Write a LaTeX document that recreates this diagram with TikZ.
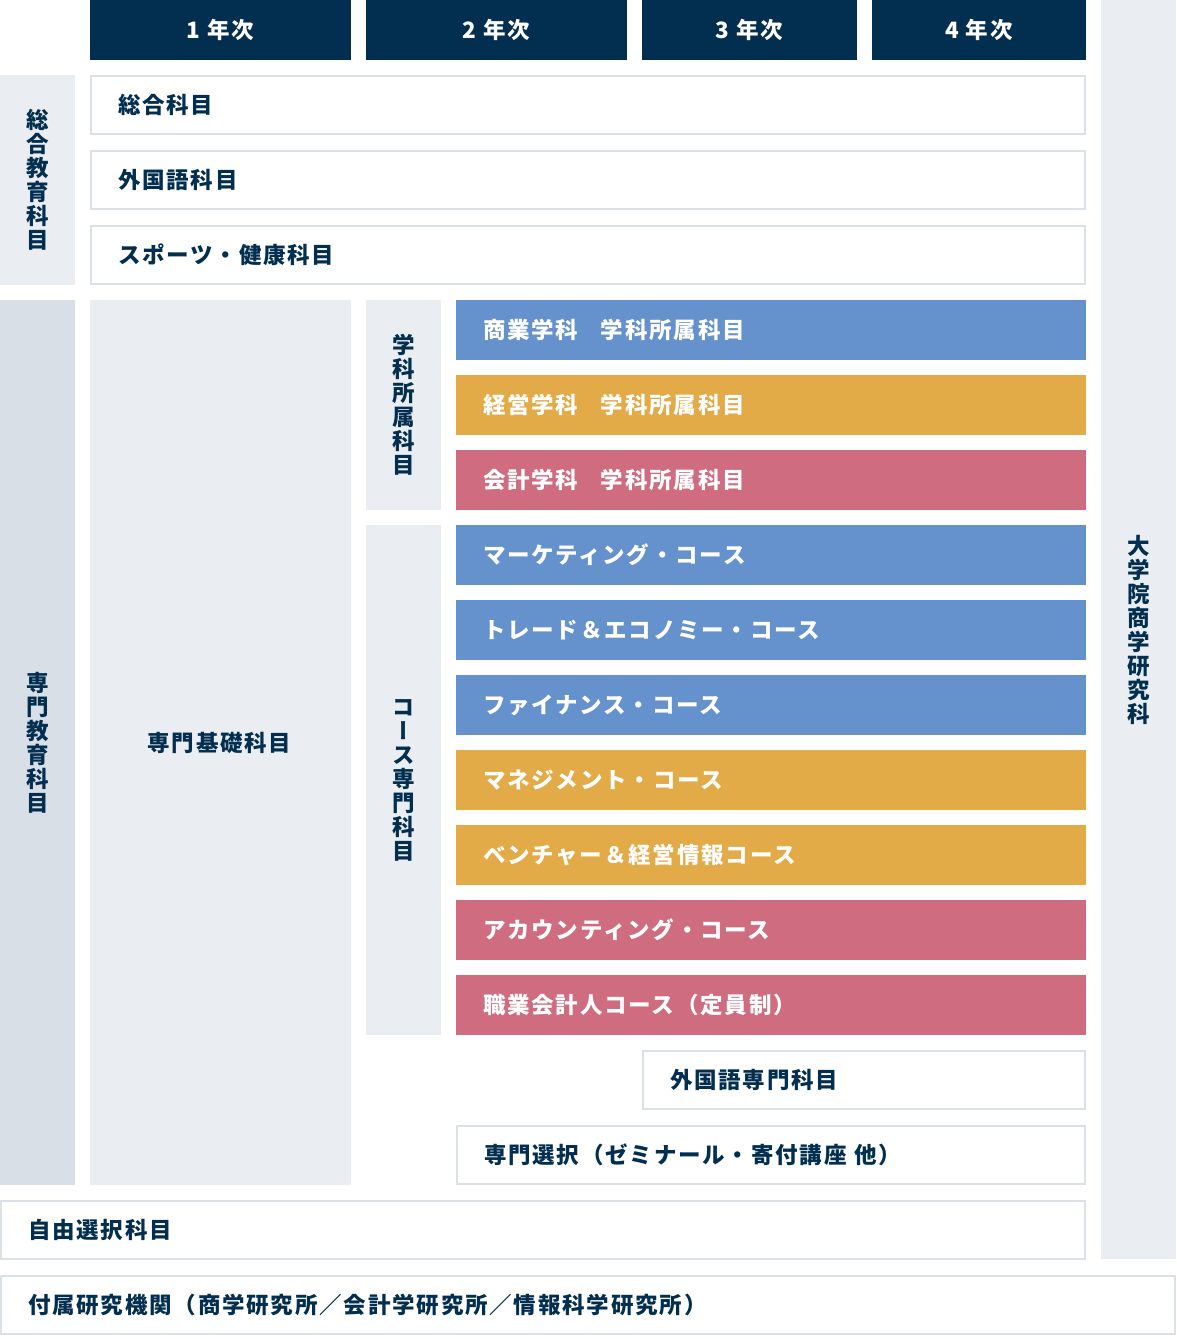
\documentclass[tikz,border=0pt]{standalone}
\usepackage{fontspec}
\newfontfamily\jp{Noto Sans CJK JP}[LetterSpace=8]
\newfontfamily\jpv{Noto Sans CJK JP}[RawFeature=+vert]
\definecolor{navy}{HTML}{022E4F}
\definecolor{lightc}{HTML}{EAEEF2}
\definecolor{darkc}{HTML}{D9DFE7}
\definecolor{bordc}{HTML}{DCE1E8}
\definecolor{blu}{HTML}{6592CD}
\definecolor{org}{HTML}{E3AA48}
\definecolor{pnk}{HTML}{CF6C7F}
\tikzset{
  txt/.style={font=\jp\bfseries\fontsize{22.5}{24}\selectfont},
  cell/.style={txt, anchor=north west, inner ysep=0pt, inner xsep=27pt, minimum height=60pt, align=left, outer sep=0pt},
  wbox/.style={cell, draw=bordc, line width=2pt, fill=white, text=navy, minimum height=58pt},
  bar/.style={cell, fill=#1, text=white},
  head/.style={txt, anchor=north west, fill=navy, text=white, minimum height=60pt, inner sep=0pt, outer sep=0pt},
  panel/.style={anchor=north west, fill=#1, inner sep=0pt, outer sep=0pt},
  vtext/.style={font=\jpv\bfseries\fontsize{22.5}{24}\selectfont, text=navy, align=center, text width=24pt, inner sep=0pt},
}
\begin{document}
\begin{tikzpicture}[x=1pt,y=-1pt]
\useasboundingbox (0,0) rectangle (1176,1339);
% headers
\node[head, minimum width=261pt] (h1) at (90,0) {1 年次};
\node[head, minimum width=261pt] (h2) at (366,0) {2 年次};
\node[head, minimum width=215pt] (h3) at (642,0) {3 年次};
\node[head, minimum width=214pt] (h4) at (872,0) {4 年次};
% right column
\node[panel=lightc, minimum width=75pt, minimum height=1259pt] (grad) at (1101,0) {};
\node[vtext] (gradt) at (grad.center) {大\\学\\院\\商\\学\\研\\究\\科};
% left columns
\node[panel=lightc, minimum width=75pt, minimum height=210pt] (gen) at (0,75) {};
\node[vtext] (gent) at (gen.center) {総\\合\\教\\育\\科\\目};
\node[panel=darkc, minimum width=75pt, minimum height=885pt] (spe) at (0,300) {};
\node[vtext] (spet) at (spe.center) {専\\門\\教\\育\\科\\目};
% general subjects
\node[wbox, minimum width=994pt, text width=940pt] (g1) at (91,76) {総合科目};
\node[wbox, minimum width=994pt, text width=940pt] (g2) at (91,151) {外国語科目};
\node[wbox, minimum width=994pt, text width=940pt] (g3) at (91,226) {スポーツ・健康科目};
% basic
\node[panel=lightc, minimum width=261pt, minimum height=885pt] (basic) at (90,300) {};
\node[txt, text=navy] (basict) at ([xshift=-1pt]basic.center) {専門基礎科目};
% dept & course labels
\node[panel=lightc, minimum width=75pt, minimum height=210pt] (dept) at (366,300) {};
\node[vtext] (deptt) at (dept.center) {学\\科\\所\\属\\科\\目};
\node[panel=lightc, minimum width=75pt, minimum height=510pt] (course) at (366,525) {};
\node[vtext] (courset) at (course.center) {コ\\ー\\ス\\専\\門\\科\\目};
% bars
\node[bar=blu, minimum width=630pt, text width=576pt] (b1) at (456,300) {商業学科\quad 学科所属科目};
\node[bar=org, minimum width=630pt, text width=576pt] (b2) at (456,375) {経営学科\quad 学科所属科目};
\node[bar=pnk, minimum width=630pt, text width=576pt] (b3) at (456,450) {会計学科\quad 学科所属科目};
\node[bar=blu, minimum width=630pt, text width=576pt] (b4) at (456,525) {マーケティング・コース};
\node[bar=blu, minimum width=630pt, text width=576pt] (b5) at (456,600) {トレード＆エコノミー・コース};
\node[bar=blu, minimum width=630pt, text width=576pt] (b6) at (456,675) {ファイナンス・コース};
\node[bar=org, minimum width=630pt, text width=576pt] (b7) at (456,750) {マネジメント・コース};
\node[bar=org, minimum width=630pt, text width=576pt] (b8) at (456,825) {ベンチャー＆経営情報コース};
\node[bar=pnk, minimum width=630pt, text width=576pt] (b9) at (456,900) {アカウンティング・コース};
\node[bar=pnk, minimum width=630pt, text width=576pt] (b10) at (456,975) {職業会計人コース（定員制）};
% others
\node[wbox, minimum width=442pt, text width=388pt] (fl) at (643,1051) {外国語専門科目};
\node[wbox, minimum width=628pt, text width=574pt] (sel) at (457,1126) {専門選択（ゼミナール・寄付講座 他）};
\node[wbox, minimum width=1084pt, text width=1030pt] (free) at (1,1201) {自由選択科目};
\node[wbox, minimum width=1174pt, text width=1120pt] (inst) at (1,1276) {付属研究機関（商学研究所／会計学研究所／情報科学研究所）};
\end{tikzpicture}
\end{document}
